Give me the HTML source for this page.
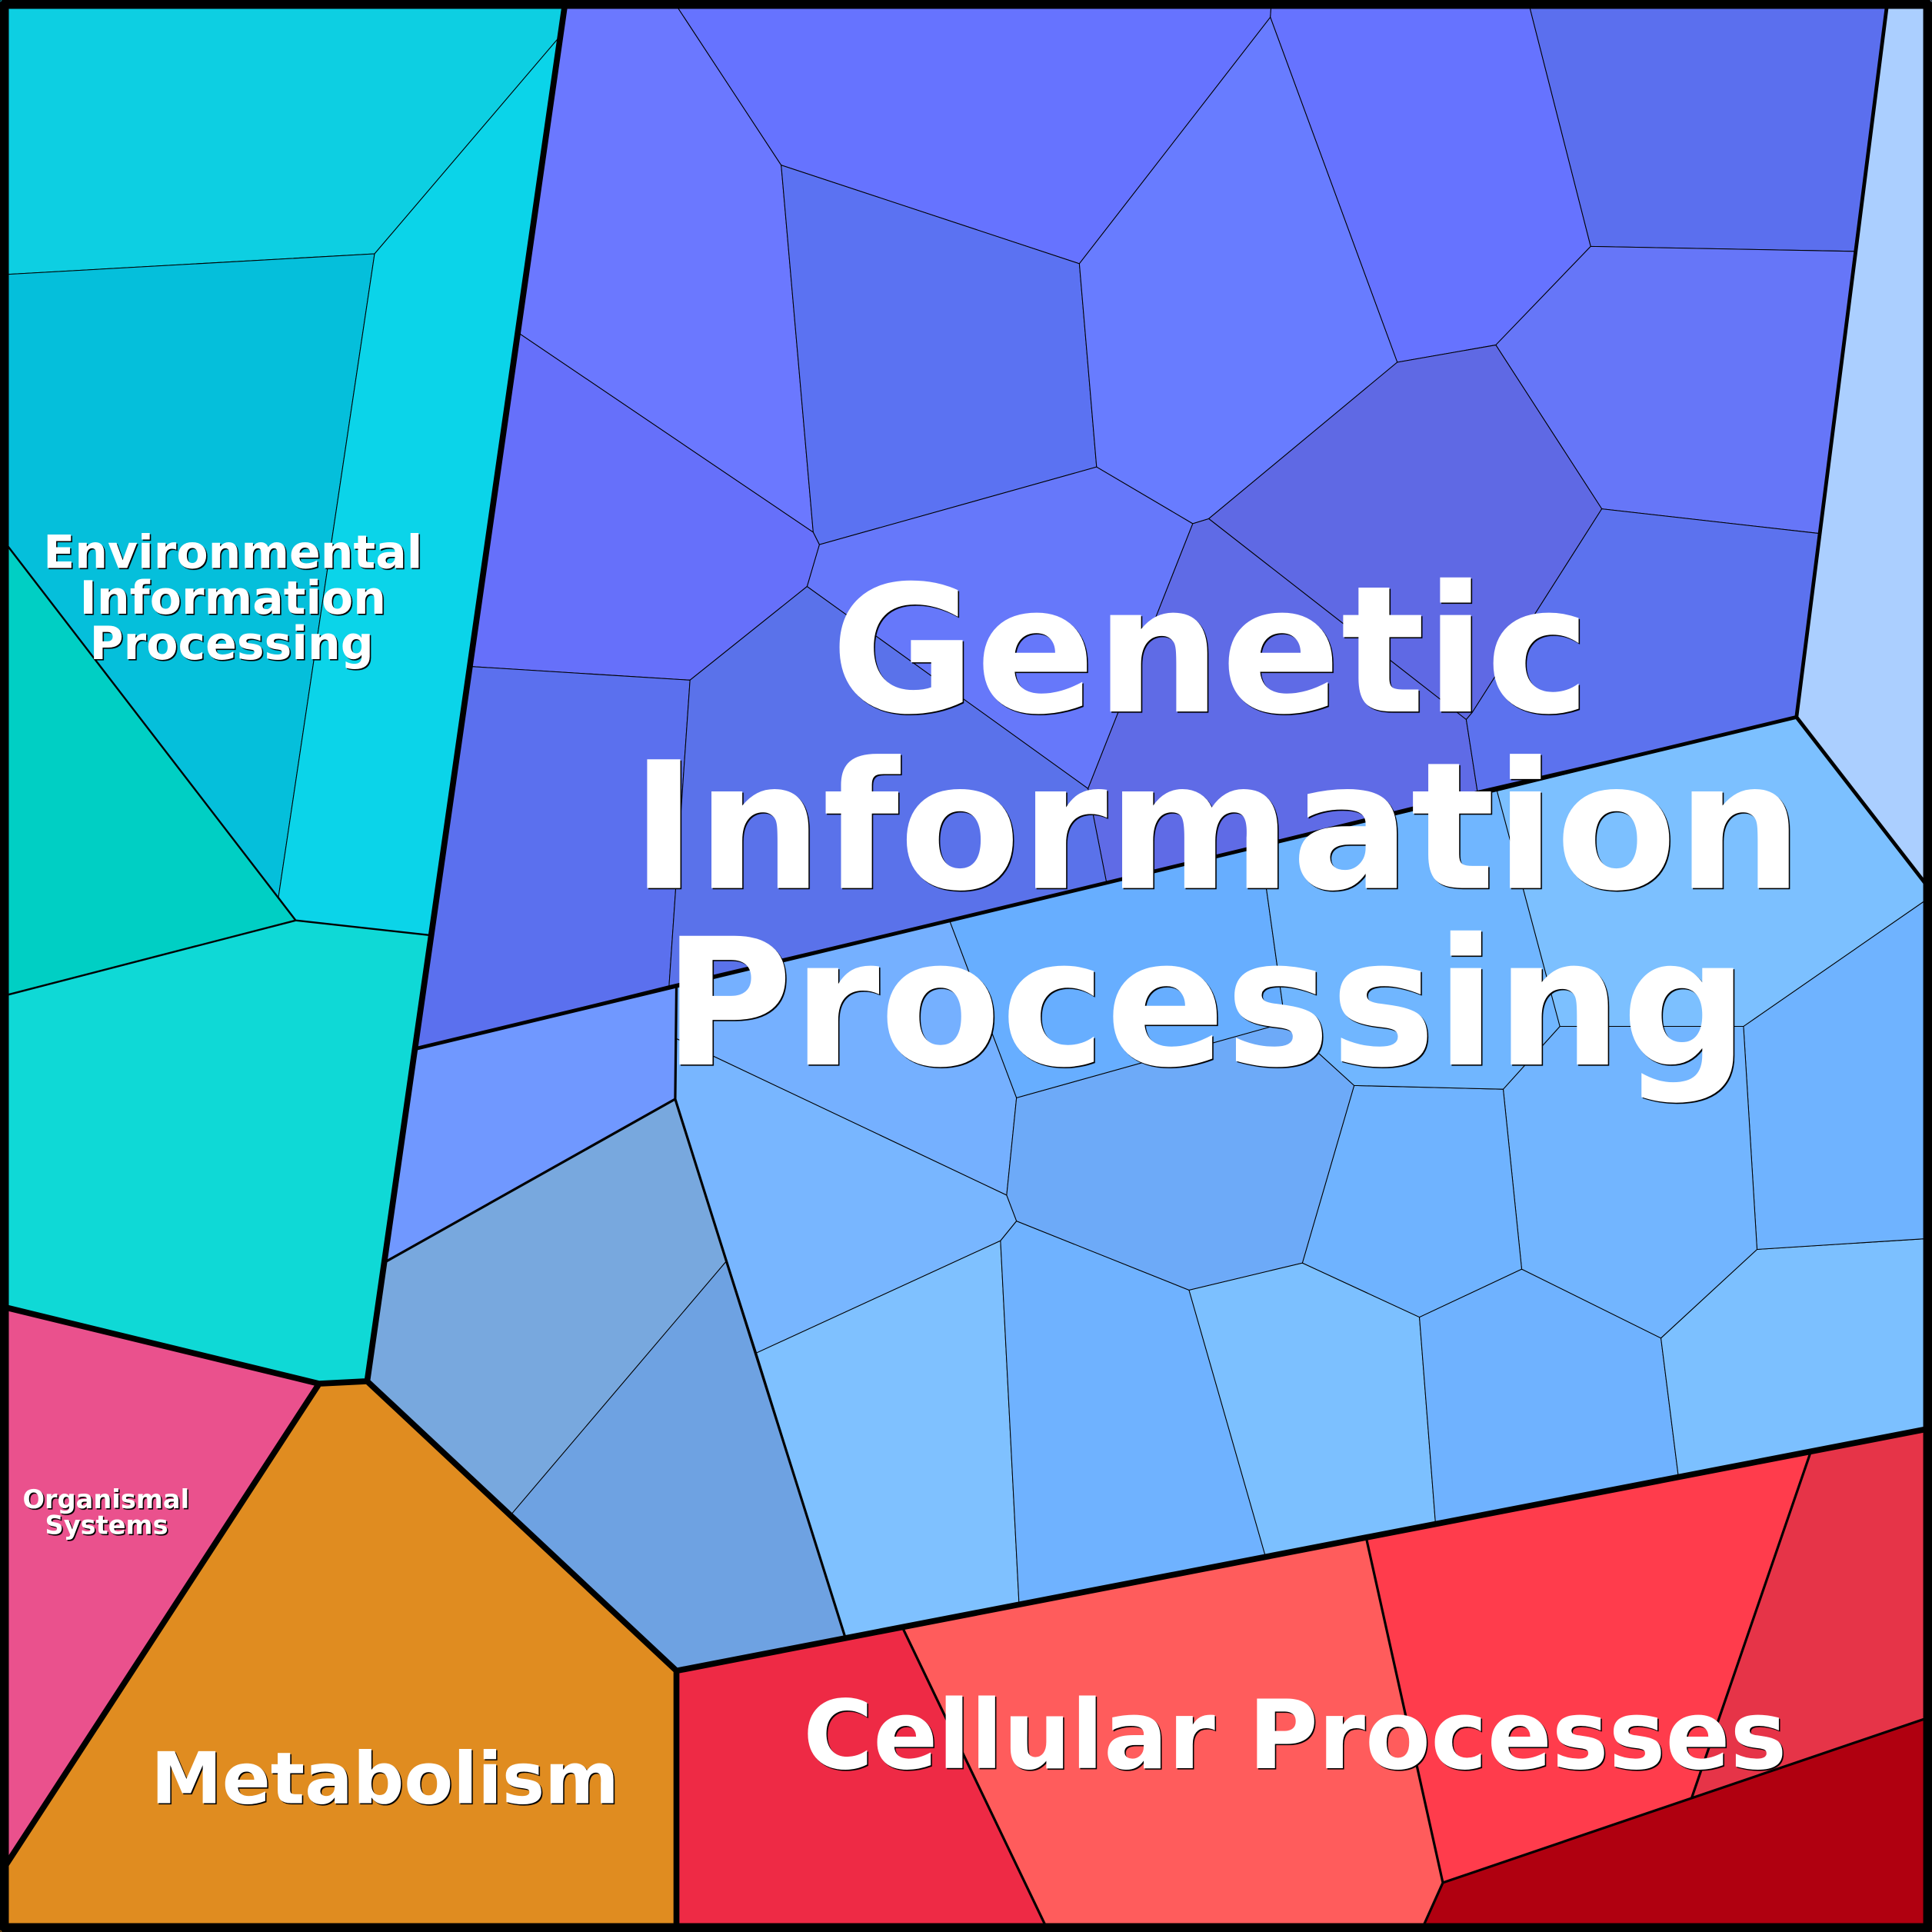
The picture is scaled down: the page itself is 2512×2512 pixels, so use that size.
<!DOCTYPE html>
<html><head><meta charset="utf-8"><style>
html,body{margin:0;padding:0;background:#000}
svg{display:block}
text{font-family:"DejaVu Sans",sans-serif;font-weight:bold;fill:#fff;text-anchor:middle}
.c polygon{stroke:#000;stroke-width:.65;stroke-linejoin:round}
.t{filter:drop-shadow(1.2px 1.2px 0 #000)}
</style></head><body>
<svg width="2512" height="2512" viewBox="0 0 1568 1568" xmlns="http://www.w3.org/2000/svg">
<g class="c">
<polygon fill="#0dcfe2" points="0,0 459,0 454,30 304,206 0,223"/>
<polygon fill="#05bfdb" points="0,223 304,206 226,728 240,747 0,435"/>
<polygon fill="#0bd4e9" points="304,206 454,30 459,0 349,759 240,747 226,728"/>
<polygon fill="#00cfc4" points="0,435 240,747 0,809"/>
<polygon fill="#0fd9d6" points="0,809 240,747 349,759 298,1121 259,1123 0,1060"/>
<polygon fill="#ea518d" points="0,1060 259,1123 0,1521"/>
<polygon fill="#e08c20" points="0,1521 259,1123 298,1121 549,1356 549,1568 0,1568"/>
<polygon fill="#ee2a45" points="549,1356 733,1322 851,1568 549,1568"/>
<polygon fill="#ff5c5c" points="733,1322 1109,1249 1171,1528 1153,1568 851,1568"/>
<polygon fill="#ff3c4c" points="1109,1249 1469,1180 1373,1459 1171,1528"/>
<polygon fill="#e63448" points="1469,1180 1568,1159 1568,1393 1373,1459"/>
<polygon fill="#b00010" points="1171,1528 1568,1393 1568,1568 1153,1568"/>
<polygon fill="#6b78ff" points="459,0 546,0 634,134 660,432 422,271"/>
<polygon fill="#6673ff" points="546,0 1032,0 1031,14 876,214 634,134"/>
<polygon fill="#6673ff" points="1032,0 1240,0 1291,200 1214,280 1134,294 1031,14"/>
<polygon fill="#5b6fee" points="1240,0 1532,0 1505,204 1291,200"/>
<polygon fill="#5b72f2" points="634,134 876,214 890,379 665,442 660,432"/>
<polygon fill="#687cff" points="876,214 1031,14 1134,294 981,421 968,425 890,379"/>
<polygon fill="#6676f8" points="1291,200 1505,204 1477,433 1300,413 1214,280"/>
<polygon fill="#5f69e4" points="1134,294 1214,280 1300,413 1195,578 1190,584 981,421"/>
<polygon fill="#5f6be6" points="968,425 981,421 1190,584 1199,642 898,716 883,640"/>
<polygon fill="#6678fa" points="665,442 890,379 968,425 883,640 655,476"/>
<polygon fill="#6670fa" points="422,271 660,432 665,442 655,476 560,552 383,541"/>
<polygon fill="#5b70ee" points="383,541 560,552 543,800 338,851"/>
<polygon fill="#5a72ea" points="560,552 655,476 883,640 898,716 543,800"/>
<polygon fill="#5c72ee" points="1300,413 1477,433 1458,582 1199,642 1190,584 1195,578"/>
<polygon fill="#7098ff" points="338,851 549,801 548,892 313,1024"/>
<polygon fill="#78a8de" points="313,1024 548,892 590,1023 415,1229 298,1121"/>
<polygon fill="#6ea2e2" points="590,1023 686,1329 549,1356 415,1229"/>
<polygon fill="#75b0ff" points="549,801 771,748 825,891 817,970 549,843"/>
<polygon fill="#78b6ff" points="549,843 817,970 825,991 812,1007 614,1098 548,892"/>
<polygon fill="#7fc1ff" points="614,1098 812,1007 827,1301 686,1329"/>
<polygon fill="#6fb2ff" points="812,1007 825,991 965,1047 1027,1263 827,1301"/>
<polygon fill="#7cc0ff" points="965,1047 1057,1025 1152,1069 1165,1236 1027,1263"/>
<polygon fill="#6fb2ff" points="1152,1069 1235,1030 1348,1086 1362,1197 1165,1236"/>
<polygon fill="#7cc0ff" points="1348,1086 1426,1014 1568,1005 1568,1159 1362,1197"/>
<polygon fill="#6fb3ff" points="1426,1014 1415,833 1568,727 1568,1005"/>
<polygon fill="#72b5ff" points="1220,884 1266,833 1415,833 1426,1014 1348,1086 1235,1030"/>
<polygon fill="#6fb3ff" points="1099,881 1220,884 1235,1030 1152,1069 1057,1025"/>
<polygon fill="#6daaf8" points="825,891 1043,830 1099,881 1057,1025 965,1047 825,991 817,970"/>
<polygon fill="#67aeff" points="771,748 1023,687 1043,830 825,891"/>
<polygon fill="#70b6ff" points="1023,687 1215,642 1266,833 1220,884 1099,881 1043,830"/>
<polygon fill="#7cc0ff" points="1215,642 1458,582 1568,724 1568,727 1415,833 1266,833"/>
<polygon fill="#abcfff" points="1532,0 1568,0 1568,724 1458,582"/>
</g>
<g fill="none" stroke="#000" stroke-linejoin="round">
<path stroke-width="1.5" d="M0,435L240,747L0,809M240,747L349,759"/>
<path stroke-width="2" d="M313,1024L548,892L549,801M548,892L686,1329M733,1322L851,1568M1109,1249L1171,1528L1153,1568M1171,1528L1568,1393M1469,1180L1373,1459"/>
<path stroke-width="3" d="M338,851L1458,582L1568,724M1532,0L1458,582"/>
<path stroke-width="4.8" d="M459,0L298,1121L259,1123L0,1060M259,1123L0,1521M298,1121L549,1356L549,1568M549,1356L1568,1159"/>
<rect x="3.5" y="3.5" width="1561" height="1561" stroke-width="7.3"/>
</g>
<g class="t">
<text x="189" y="461" font-size="37.5">Environmental</text>
<text x="189" y="498" font-size="37.5">Information</text>
<text x="188" y="535" font-size="37.5">Processing</text>
<text x="86" y="1224" font-size="21">Organismal</text>
<text x="86.5" y="1245" font-size="21">Systems</text>
<text x="312.5" y="1463.5" font-size="58">Metabolism</text>
<text x="1051" y="1435" font-size="77.4">Cellular Processes</text>
<text x="982.5" y="577.5" font-size="143.3">Genetic</text>
<text x="987.5" y="720.7" font-size="143.3">Information</text>
<text x="978.5" y="864" font-size="143.3">Processing</text>
</g>
</svg>
</body></html>
